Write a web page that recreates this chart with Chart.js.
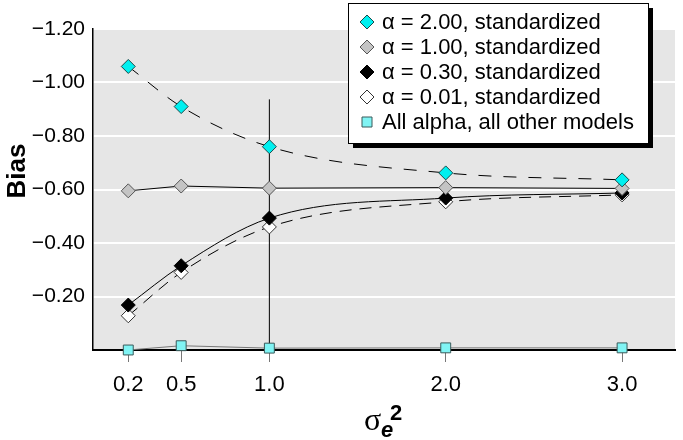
<!DOCTYPE html>
<html>
<head>
<meta charset="utf-8">
<script src="https://cdn.jsdelivr.net/npm/chart.js@4.4.1/dist/chart.umd.min.js"></script>
<style>
  html, body { margin: 0; padding: 0; background: #fff; }
  #wrap { width: 683px; height: 440px; position: relative; }
</style>
</head>
<body>
<div id="wrap"><canvas id="biasChart"></canvas></div>
<script>
// Chart data
const xValues = [0.2, 0.5, 1.0, 2.0, 3.0];
const xTicks = [0.2, 0.5, 1.0, 2.0, 3.0];
const alpha200 = [-1.06, -0.91, -0.76, -0.662, -0.636];
const alpha100 = [-0.595, -0.613, -0.605, -0.607, -0.604];
const alpha030 = [-0.168, -0.315, -0.493, -0.568, -0.587];
const alpha001 = [-0.128, -0.29, -0.46, -0.554, -0.58];
const allOther = [0.0, -0.016, -0.007, -0.008, -0.008];
const errX = [1.0, 1.0];
const errY = [0.0, -0.937];
const seriesLabels = [
    'α = 2.00, standardized',
    'α = 1.00, standardized',
    'α = 0.30, standardized',
    'α = 0.01, standardized',
    'All alpha, all other models'
];

const FONT = "'Liberation Sans', Arial, sans-serif";

function toPoints(xs, ys) {
    return xs.map((x, i) => ({ x: x, y: ys[i] }));
}

// Gray plot background
const plotBackground = {
    id: 'plotBackground',
    beforeDraw(chart) {
        const a = chart.chartArea;
        const ctx = chart.ctx;
        ctx.save();
        ctx.fillStyle = '#e6e6e6';
        ctx.fillRect(a.left, a.top, a.right - a.left, a.bottom - a.top);
        ctx.restore();
    }
};

// Axis titles and the boxed legend
const annotations = {
    id: 'annotations',
    afterDraw(chart) {
        const ctx = chart.ctx;
        ctx.save();

        // y title
        ctx.save();
        ctx.translate(25, 171);
        ctx.rotate(-Math.PI / 2);
        ctx.fillStyle = '#000';
        ctx.font = "bold 26px " + FONT;
        ctx.textAlign = 'center';
        ctx.textBaseline = 'alphabetic';
        ctx.fillText('Bias', 0, 0);
        ctx.restore();

        // x title: sigma e squared
        ctx.fillStyle = '#000';
        ctx.textAlign = 'left';
        ctx.textBaseline = 'alphabetic';
        ctx.font = "32px 'Liberation Serif', serif";
        ctx.fillText('σ', 364, 430);
        ctx.font = "italic bold 22px " + FONT;
        ctx.fillText('e', 381, 437);
        ctx.font = "bold 22px " + FONT;
        ctx.fillText('2', 390, 420);

        // legend box with shadow
        const bx = 348, by = 3, bw = 300, bh = 140;
        ctx.fillStyle = '#000';
        ctx.fillRect(bx + 5, by + 5, bw, bh);
        ctx.fillStyle = '#fff';
        ctx.fillRect(bx, by, bw, bh);
        ctx.strokeStyle = '#000';
        ctx.lineWidth = 1;
        ctx.strokeRect(bx + 0.5, by + 0.5, bw, bh);

        ctx.font = "22px " + FONT;
        ctx.textBaseline = 'middle';
        for (let i = 0; i < seriesLabels.length; i++) {
            const ds = chart.data.datasets[i];
            const cy = 22 + i * 25;
            const cx = 367;
            ctx.fillStyle = ds.pointBackgroundColor;
            ctx.strokeStyle = ds.pointBorderColor;
            ctx.lineWidth = 1;
            ctx.beginPath();
            if (ds.pointStyle === 'rect') {
                ctx.rect(cx - 5, cy - 5, 10, 10);
            } else {
                ctx.moveTo(cx - 7, cy);
                ctx.lineTo(cx, cy - 7);
                ctx.lineTo(cx + 7, cy);
                ctx.lineTo(cx, cy + 7);
                ctx.closePath();
            }
            ctx.fill();
            ctx.stroke();
            ctx.fillStyle = '#000';
            ctx.fillText(seriesLabels[i], 382, cy + 1);
        }
        ctx.restore();
    }
};

const ctx = document.getElementById('biasChart');

const config = {
    type: 'scatter',
    data: {
        datasets: [
            {
                label: seriesLabels[0],
                data: toPoints(xValues, alpha200),
                showLine: true,
                borderColor: '#000',
                borderWidth: 1,
                borderDash: [13, 12],
                cubicInterpolationMode: 'monotone',
                pointStyle: 'rectRot',
                pointRadius: 7,
                pointBackgroundColor: '#00f0f0',
                pointBorderColor: '#1a4a4a',
                pointBorderWidth: 1,
                clip: false,
                order: 0
            },
            {
                label: seriesLabels[1],
                data: toPoints(xValues, alpha100),
                showLine: true,
                borderColor: '#000',
                borderWidth: 1,
                tension: 0,
                pointStyle: 'rectRot',
                pointRadius: 7,
                pointBackgroundColor: '#c4c4c4',
                pointBorderColor: '#555',
                pointBorderWidth: 1,
                clip: false,
                order: 1
            },
            {
                label: seriesLabels[2],
                data: toPoints(xValues, alpha030),
                showLine: true,
                borderColor: '#000',
                borderWidth: 1,
                cubicInterpolationMode: 'monotone',
                pointStyle: 'rectRot',
                pointRadius: 7,
                pointBackgroundColor: '#000',
                pointBorderColor: '#000',
                pointBorderWidth: 1,
                clip: false,
                order: 2
            },
            {
                label: seriesLabels[3],
                data: toPoints(xValues, alpha001),
                showLine: true,
                borderColor: '#000',
                borderWidth: 1,
                borderDash: [12, 8],
                cubicInterpolationMode: 'monotone',
                pointStyle: 'rectRot',
                pointRadius: 7,
                pointBackgroundColor: '#fff',
                pointBorderColor: '#333',
                pointBorderWidth: 1,
                clip: false,
                order: 3
            },
            {
                label: seriesLabels[4],
                data: toPoints(xValues, allOther),
                showLine: true,
                borderColor: '#777',
                borderWidth: 1,
                tension: 0,
                pointStyle: 'rect',
                pointRadius: 7,
                pointBackgroundColor: '#80f4f4',
                pointBorderColor: '#3a5a5a',
                pointBorderWidth: 1,
                clip: false,
                order: 4
            },
            {
                label: 'range',
                data: toPoints(errX, errY),
                showLine: true,
                borderColor: '#000',
                borderWidth: 1,
                pointRadius: 0,
                clip: false,
                order: 5
            }
        ]
    },
    options: {
        responsive: true,
        maintainAspectRatio: false,
        animation: false,
        layout: {
            padding: { top: 29, right: 0, bottom: 0, left: 0 }
        },
        plugins: {
            legend: { display: false },
            title: { display: false },
            tooltip: { enabled: false }
        },
        scales: {
            x: {
                type: 'linear',
                min: 0,
                max: 3.3,
                afterBuildTicks: function(scale) {
                    scale.ticks = xTicks.map(v => ({ value: v }));
                },
                afterFit: function(scale) {
                    scale.height = 90;
                },
                grid: {
                    drawOnChartArea: false,
                    drawTicks: true,
                    tickLength: 12,
                    color: '#777'
                },
                border: { display: true, color: '#000', width: 2 },
                ticks: {
                    color: '#000',
                    padding: 10,
                    maxRotation: 0,
                    autoSkip: false,
                    font: { family: FONT, size: 22 },
                    callback: function(value) {
                        return Number(value).toFixed(1);
                    }
                }
            },
            y: {
                type: 'linear',
                min: -1.2,
                max: 0,
                reverse: true,
                afterFit: function(scale) {
                    scale.width = 93;
                },
                grid: {
                    color: '#fff',
                    lineWidth: 2,
                    drawTicks: false
                },
                border: { display: true, color: '#000', width: 1.5 },
                ticks: {
                    stepSize: 0.2,
                    color: '#000',
                    padding: 8,
                    font: { family: FONT, size: 21 },
                    callback: function(value) {
                        const v = Math.round(value * 100) / 100;
                        if (v === 0) return '';
                        return '\u2212' + Math.abs(v).toFixed(2);
                    }
                }
            }
        }
    },
    plugins: [plotBackground, annotations]
};

const biasChart = new Chart(ctx, config);
</script>
</body>
</html>
